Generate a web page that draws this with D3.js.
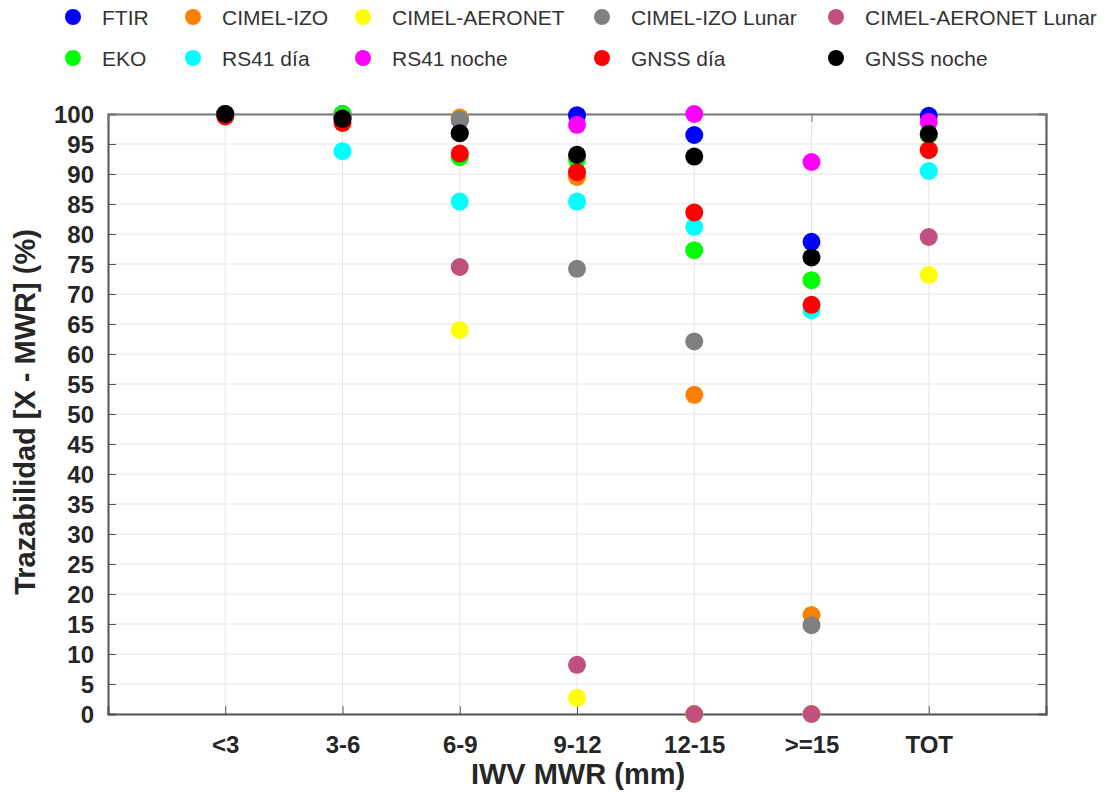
<!DOCTYPE html>
<html><head><meta charset="utf-8">
<script src="https://cdn.jsdelivr.net/npm/d3@7"></script>
<style>body{margin:0;background:#fff;} svg{display:block;font-family:"Liberation Sans",Arial,sans-serif;}</style>
</head><body>
<svg id="c" width="1112" height="794"></svg>
<script>
const categories = ["<3","3-6","6-9","9-12","12-15",">=15","TOT"];
const seriesNames = ["FTIR","CIMEL-IZO","CIMEL-AERONET","CIMEL-IZO Lunar","CIMEL-AERONET Lunar","EKO","RS41 día","RS41 noche","GNSS día","GNSS noche"];
const seriesColors = ["#0000ff","#ff8000","#ffff00","#808080","#c0507e","#00ff00","#00ffff","#ff00ff","#ff0000","#000000"];
const FTIR        = [100, 100, 99.0, 99.8, 96.5, 78.7, 99.7];
const CIMEL_IZO   = [100, 99.5, 99.4, 89.5, 53.2, 16.5, 94.0];
const CIMEL_AER   = [100, 99.5, 64.0, 2.7, 0, 0, 73.2];
const CIMEL_IZO_L = [100, 99.5, 99.1, 74.2, 62.1, 14.8, 96.5];
const CIMEL_AER_L = [100, 99.5, 74.5, 8.2, 0, 0, 79.5];
const EKO         = [100, 100, 92.8, 92.4, 77.3, 72.3, 96.5];
const RS41_dia    = [100, 93.8, 85.4, 85.4, 81.2, 67.3, 90.5];
const RS41_noche  = [100, 99.3, 96.8, 98.2, 100, 92.0, 98.7];
const GNSS_dia    = [99.6, 98.5, 93.4, 90.3, 83.6, 68.2, 94.0];
const GNSS_noche  = [100, 99.2, 96.8, 93.2, 92.9, 76.1, 96.7];
const seriesValues = [FTIR,CIMEL_IZO,CIMEL_AER,CIMEL_IZO_L,CIMEL_AER_L,EKO,RS41_dia,RS41_noche,GNSS_dia,GNSS_noche];
const yTicks = d3.range(0,101,5);

const svg = d3.select("#c");
const L=108,R=1046,T=114,B=714;
const x = d3.scaleLinear().domain([0,8]).range([L,R]);
const y = d3.scaleLinear().domain([0,100]).range([B,T]);
const txt="#262626";

// grid
svg.append("g").selectAll("line").data(yTicks).join("line")
  .attr("x1",L).attr("x2",R).attr("y1",d=>y(d)).attr("y2",d=>y(d))
  .attr("stroke","#e6e6e6").attr("stroke-width",1);
svg.append("g").selectAll("line").data(categories).join("line")
  .attr("x1",(d,i)=>x(i+1)).attr("x2",(d,i)=>x(i+1)).attr("y1",T).attr("y2",B)
  .attr("stroke","#e6e6e6").attr("stroke-width",1);

// axes
const yAxisL = d3.axisLeft(y).tickValues(yTicks).tickSize(-8).tickPadding(14);
const gy = svg.append("g").attr("transform",`translate(${L},0)`).call(yAxisL);
gy.select(".domain").attr("stroke","#555").attr("stroke-width",2);
gy.selectAll(".tick line").attr("stroke","#555");
gy.selectAll("text").attr("font-size",24).attr("font-weight","bold").attr("fill",txt).attr("dy","0.36em");

const yAxisR = d3.axisRight(y).tickValues(yTicks).tickSize(-8).tickFormat("");
const gyr = svg.append("g").attr("transform",`translate(${R},0)`).call(yAxisR);
gyr.select(".domain").attr("stroke","#555").attr("stroke-width",2);
gyr.selectAll(".tick line").attr("stroke","#555");

const xAxisB = d3.axisBottom(x).tickValues(d3.range(1,8)).tickSize(-8).tickPadding(22)
  .tickFormat(d=>categories[d-1]);
const gx = svg.append("g").attr("transform",`translate(0,${B})`).call(xAxisB);
gx.select(".domain").attr("stroke","#555").attr("stroke-width",2);
gx.selectAll(".tick line").attr("stroke","#555");
gx.selectAll("text").attr("font-size",24).attr("font-weight","bold").attr("fill",txt)
  .attr("y",null).attr("dy",null).attr("transform","translate(0,39)");

const xAxisT = d3.axisTop(x).tickValues(d3.range(1,8)).tickSize(-8).tickFormat("");
const gxt = svg.append("g").attr("transform",`translate(0,${T})`).call(xAxisT);
gxt.select(".domain").attr("stroke","#777").attr("stroke-width",2);
gxt.selectAll(".tick line").attr("stroke","#777");

// points
seriesValues.forEach((vals,s)=>{
  svg.append("g").selectAll("circle").data(vals.map((v,i)=>({v,i})).filter(d=>d.v!=null)).join("circle")
    .attr("cx",d=>x(d.i+1)).attr("cy",d=>y(d.v)).attr("r",9)
    .attr("fill",seriesColors[s]);
});

// axis titles
svg.append("text").attr("x",578).attr("y",784).attr("text-anchor","middle")
  .attr("font-size",29).attr("font-weight","bold").attr("fill",txt).text("IWV MWR (mm)");
svg.append("text").attr("transform",`translate(35,412) rotate(-90)`).attr("text-anchor","middle")
  .attr("font-size",29).attr("font-weight","bold").attr("fill",txt).text("Trazabilidad [X - MWR] (%)");

// legend
const legX=[73,193,363,602,836];
const lg = svg.append("g");
seriesNames.forEach((n,i)=>{
  const row=Math.floor(i/5), col=i%5;
  const cx=legX[col], cy=row===0?17:58;
  lg.append("circle").attr("cx",cx).attr("cy",cy).attr("r",8).attr("fill",seriesColors[i]);
  lg.append("text").attr("x",cx+29).attr("y",cy+7.5).attr("font-size",21).attr("fill","#333").text(n);
});
</script>
</body></html>
